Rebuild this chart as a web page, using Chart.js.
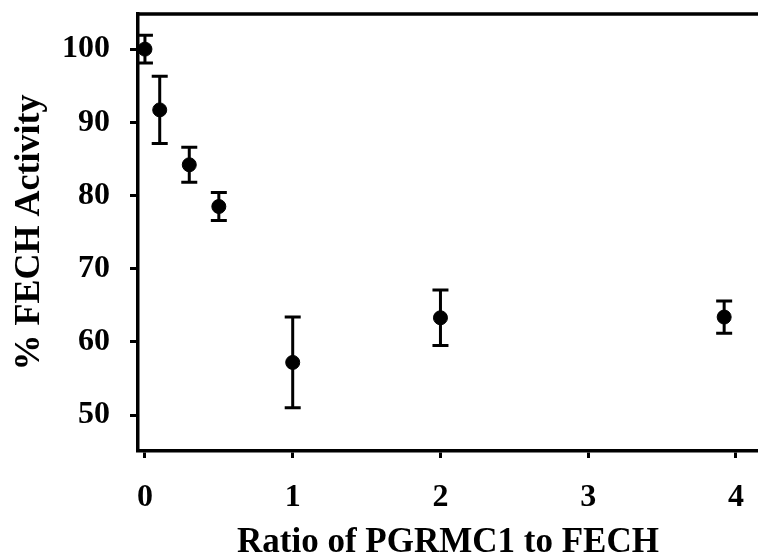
<!DOCTYPE html>
<html>
<head>
<meta charset="utf-8">
<script src="https://cdn.jsdelivr.net/npm/chart.js@4"></script>
<style>
  html, body { margin: 0; padding: 0; background: #fff; }
  #wrap { width: 758px; height: 560px; }
</style>
</head>
<body>
<div id="wrap"><canvas id="chart" width="758" height="560"></canvas></div>
<script>
// data
const ratio = [0, 0.1, 0.3, 0.5, 1, 2, 3.92];
const activity = [100, 91.7, 84.2, 78.5, 57.2, 63.3, 63.4];
const errors = [1.9, 4.6, 2.4, 1.9, 6.2, 3.8, 2.2];
const xTicks = [0, 1, 2, 3, 4];
const yTicks = [50, 60, 70, 80, 90, 100];

const points = ratio.map((r, i) => ({ x: r, y: activity[i] }));
const serif = '"Liberation Serif", "Times New Roman", serif';

// error bars + top frame line
const errorBars = {
  id: 'errorBars',
  beforeDatasetsDraw(chart) {
    const ctx = chart.ctx;
    const xs = chart.scales.x, ys = chart.scales.y;
    ctx.save();
    ctx.strokeStyle = '#000';
    ctx.lineWidth = 3;
    points.forEach((p, i) => {
      const px = xs.getPixelForValue(p.x);
      const top = ys.getPixelForValue(p.y + errors[i]);
      const bot = ys.getPixelForValue(p.y - errors[i]);
      ctx.beginPath();
      ctx.moveTo(px, top); ctx.lineTo(px, bot);
      ctx.moveTo(px - 8, top); ctx.lineTo(px + 8, top);
      ctx.moveTo(px - 8, bot); ctx.lineTo(px + 8, bot);
      ctx.stroke();
    });
    const a = chart.chartArea;
    ctx.lineWidth = 3.5;
    ctx.beginPath();
    ctx.moveTo(a.left - 1.75, a.top);
    ctx.lineTo(chart.width, a.top);
    ctx.stroke();
    ctx.restore();
  }
};

const ctx = document.getElementById('chart').getContext('2d');
new Chart(ctx, {
  type: 'scatter',
  data: {
    datasets: [{
      data: points,
      backgroundColor: '#000',
      borderColor: '#000',
      pointRadius: 7,
      pointHoverRadius: 7
    }]
  },
  options: {
    responsive: false,
    animation: false,
    events: [],
    layout: { autoPadding: false, padding: { top: 14, right: 0, left: 0, bottom: 0 } },
    plugins: {
      legend: { display: false },
      tooltip: { enabled: false }
    },
    scales: {
      x: {
        type: 'linear',
        min: -0.047,
        max: 4.149,
        afterBuildTicks: s => { s.ticks = xTicks.map(v => ({ value: v })); },
        afterFit: s => { s.height = 109; s.paddingLeft = 0; s.paddingRight = 0; },
        grid: { drawOnChartArea: false, drawTicks: true, tickLength: 7, tickWidth: 3, color: '#000' },
        border: { display: true, color: '#000', width: 3.5 },
        ticks: {
          color: '#000',
          padding: 21,
          maxRotation: 0,
          font: { family: serif, size: 32, weight: 'bold' }
        },
        title: {
          display: true,
          text: 'Ratio of PGRMC1 to FECH',
          color: '#000',
          padding: { top: 4, bottom: 0 },
          font: { family: serif, size: 35, weight: 'bold', lineHeight: 0.95 }
        }
      },
      y: {
        type: 'linear',
        min: 45.1,
        max: 104.8,
        afterBuildTicks: s => { s.ticks = yTicks.map(v => ({ value: v })); },
        afterFit: s => { s.width = 138; s.paddingTop = 0; s.paddingBottom = 0; },
        grid: { drawOnChartArea: false, drawTicks: true, tickLength: 8, tickWidth: 3, color: '#000' },
        border: { display: true, color: '#000', width: 3.5 },
        ticks: {
          color: '#000',
          padding: 20,
          font: { family: serif, size: 32, weight: 'bold' }
        },
        title: {
          display: true,
          text: '% FECH Activity',
          color: '#000',
          padding: { top: 8, bottom: 0 },
          font: { family: serif, size: 36, weight: 'bold', lineHeight: 1.2 }
        }
      }
    }
  },
  plugins: [errorBars]
});
</script>
</body>
</html>
